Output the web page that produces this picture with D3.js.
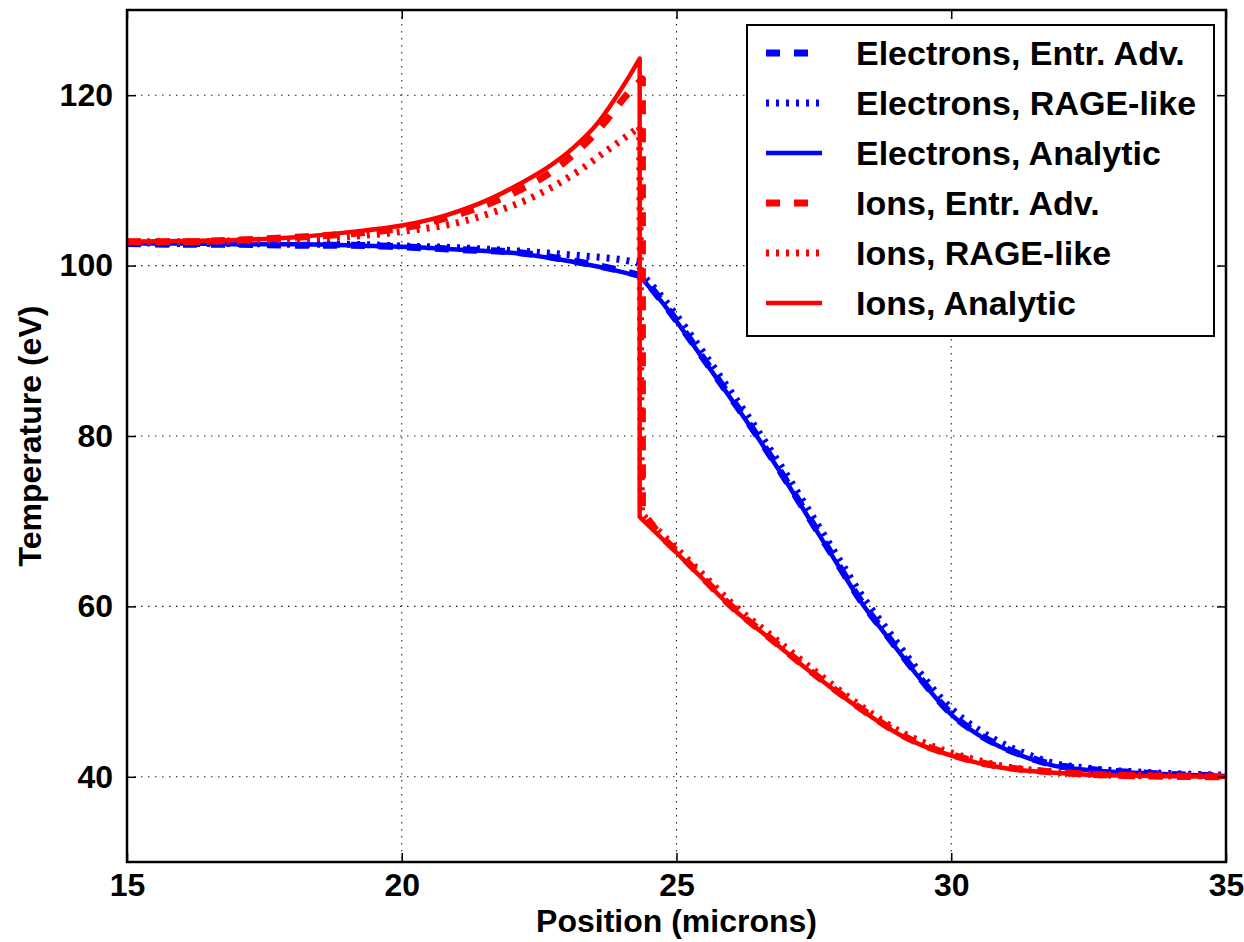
<!DOCTYPE html>
<html><head><meta charset="utf-8">
<script src="https://cdn.jsdelivr.net/npm/d3@7/dist/d3.min.js"></script>
<style>
html,body{margin:0;padding:0;background:#fff;}
text{font-family:"Liberation Sans",Arial,sans-serif;font-weight:bold;fill:#000;}
</style></head>
<body><svg id="chart" width="1244" height="942"></svg>
<script>
// ---------- data ----------
const xTicks = [15, 20, 25, 30, 35];
const yTicks = [40, 60, 80, 100, 120];
const xLabel = "Position (microns)";
const yLabel = "Temperature (eV)";

// Electrons, analytic: before / after shock
const eAnaPre = [[15,102.6],[16,102.6],[17,102.5],[18,102.5],[19,102.4],[20,102.2],[21,101.9],[22.15,101.4],[23.24,100.3],[23.85,99.5],[24.34,98.7]];
const eAnaPost = [[24.34,98.7],[24.7,96.0],[24.96,93.8],[25.5,88.9],[26,84.3],[26.46,80.0],[27,74.6],[27.5,69.4],[28,64.2],[28.34,60.7],[28.89,56.0],[29.37,52.0],[30,47.3],[30.5,44.9],[30.9,43.5],[31.4,42.2],[31.8,41.4],[32.5,40.8],[33.6,40.4],[35,40.1]];
// Electrons, entropy advection
const eEntPre = [[15,102.6],[16,102.5],[17,102.5],[18,102.4],[19,102.4],[20,102.2],[21,101.9],[22.15,101.5],[23.24,100.4],[23.85,99.6],[24.36,98.8]];
const eEntPost = [[24.36,98.8],[24.7,96.1],[24.96,93.9],[25.5,89.0],[26,84.4],[26.46,80.1],[27,74.7],[27.5,69.5],[28,64.3],[28.34,60.8],[28.89,56.1],[29.37,52.1],[30,47.4],[30.5,45.0],[30.9,43.6],[31.4,42.3],[31.8,41.5],[32.5,40.9],[33.6,40.4],[35,40.1]];
// Electrons, RAGE-like
const eRagPre = [[15,102.7],[16,102.6],[17,102.6],[18,102.5],[19,102.5],[20,102.3],[21,102.1],[22.15,101.7],[23.0,101.3],[23.55,101.0],[24.0,100.7],[24.3,100.3]];
const eRagPost = [[24.38,98.9],[24.7,96.6],[24.96,94.5],[25.5,89.7],[26,85.1],[26.46,80.8],[27,75.5],[27.5,70.3],[28,65.1],[28.34,61.6],[28.89,56.8],[29.37,52.7],[30,48.0],[30.5,45.5],[30.9,44.0],[31.4,42.6],[31.8,41.7],[32.5,41.0],[33.6,40.5],[35,40.2]];

// Ions, analytic
const iAnaPre = [[15,102.8],[16,102.9],[17,103.0],[18,103.3],[19,103.9],[20,104.7],[20.8,105.9],[21.6,107.8],[22.15,109.6],[22.65,111.5],[23.1,113.7],[23.55,116.6],[23.85,119.3],[24.1,121.8],[24.33,124.3]];
const iAnaPost = [[24.33,70.5],[24.7,68.2],[25,66.3],[25.5,63.1],[26,59.9],[26.7,56.2],[27.5,52.0],[28.16,48.8],[28.6,46.8],[29.07,44.9],[29.5,43.6],[30,42.5],[30.5,41.6],[30.9,41.1],[31.8,40.5],[32.5,40.25],[33.5,40.1],[35,40.0]];
// Ions, entropy advection
const iEntPre = [[15,102.8],[16,102.8],[17,103.0],[18,103.3],[19,103.7],[20,104.4],[21.12,106.2],[21.64,107.4],[22.09,108.7],[22.58,110.4],[22.97,112.2],[23.37,114.5],[23.73,117.1],[24.09,120.0],[24.38,121.9]];
const iEntPost = [[24.38,71.2],[24.7,68.4],[25,66.5],[25.5,63.2],[26,60.0],[26.7,56.3],[27.5,52.1],[28.16,48.9],[28.6,46.9],[29.07,45.0],[29.5,43.7],[30,42.6],[30.5,41.7],[30.9,41.2],[31.8,40.6],[32.5,40.3],[33.5,40.1],[35,40.0]];
// Ions, RAGE-like
const iRagPre = [[15,102.8],[16,102.8],[17,102.9],[18,103.1],[19,103.4],[20,104.0],[21.12,105.2],[21.73,106.4],[22.27,107.7],[22.76,109.3],[23.24,111.2],[23.73,113.5],[24.12,115.3],[24.33,116.3]];
const iRagPost = [[24.36,70.9],[24.7,68.7],[25,66.8],[25.5,63.6],[26,60.4],[26.7,56.7],[27.5,52.5],[28.16,49.2],[28.6,47.2],[29.07,45.3],[29.5,44.0],[30,42.8],[30.5,41.9],[30.9,41.3],[31.8,40.6],[32.5,40.3],[33.5,40.15],[35,40.1]];

const seriesNames = ["Electrons, Entr. Adv.","Electrons, RAGE-like","Electrons, Analytic","Ions, Entr. Adv.","Ions, RAGE-like","Ions, Analytic"];
const seriesColors = ["#0000ff","#0000ff","#0000ff","#ff0000","#ff0000","#ff0000"];
const seriesStyles = ["dash","dot","solid","dash","dot","solid"];
const seriesPre = [eEntPre, eRagPre, eAnaPre, iEntPre, iRagPre, iAnaPre];
const seriesPost = [eEntPost, eRagPost, eAnaPost, iEntPost, iRagPost, iAnaPost];

// ---------- layout ----------
const L = 127, R = 1226, T = 10, B = 862;
const svg = d3.select("#chart");
const x = d3.scaleLinear().domain([15,35]).range([L,R]);
const y = d3.scaleLinear().domain([30,130]).range([B,T]);

const styleMap = {
  solid: {w:4.5, dash:null},
  dash: {w:7, dash:"14,14"},
  dot: {w:7, dash:"3,7"}
};

// grid
const grid = svg.append("g");
xTicks.filter(t=>t>15 && t<35).forEach(t=>{
  grid.append("line").attr("x1",x(t)).attr("x2",x(t)).attr("y1",T).attr("y2",B)
    .attr("stroke","#222").attr("stroke-width",1.1).attr("stroke-dasharray","1.5,5.5");
});
yTicks.forEach(t=>{
  grid.append("line").attr("x1",L).attr("x2",R).attr("y1",y(t)).attr("y2",y(t))
    .attr("stroke","#222").attr("stroke-width",1.1).attr("stroke-dasharray","1.5,5.5");
});

// clip
svg.append("defs").append("clipPath").attr("id","clip")
  .append("rect").attr("x",L).attr("y",T).attr("width",R-L).attr("height",B-T);

const line = d3.line().x(d=>x(d[0])).y(d=>y(d[1])).curve(d3.curveMonotoneX);
const plot = svg.append("g").attr("clip-path","url(#clip)");
seriesNames.forEach((n,i)=>{
  const a = line(seriesPre[i]);
  const b = line(seriesPost[i]).replace(/^M/,"L");
  const st = styleMap[seriesStyles[i]];
  plot.append("path").attr("d", a + b)
    .attr("fill","none").attr("stroke",seriesColors[i])
    .attr("stroke-width",st.w).attr("stroke-dasharray",st.dash)
    .attr("stroke-linejoin","round");
});

// axes (ticks inward on all sides)
const axB = d3.axisBottom(x).tickValues(xTicks).tickSizeInner(-9).tickSizeOuter(0).tickPadding(11).tickFormat(d3.format("d"));
const axT = d3.axisTop(x).tickValues(xTicks).tickSizeInner(-9).tickSizeOuter(0).tickFormat("");
const axLft = d3.axisLeft(y).tickValues(yTicks).tickSizeInner(-9).tickSizeOuter(0).tickPadding(14).tickFormat(d3.format("d"));
const axRt = d3.axisRight(y).tickValues(yTicks).tickSizeInner(-9).tickSizeOuter(0).tickFormat("");
function styleAxis(g){
  g.select(".domain").remove();
  g.selectAll(".tick line").attr("stroke","#000").attr("stroke-width",1.5);
  g.selectAll(".tick text").attr("font-size",32).attr("font-family",null);
}
svg.append("g").attr("transform",`translate(0,${B})`).call(axB).call(styleAxis);
svg.append("g").attr("transform",`translate(0,${T})`).call(axT).call(styleAxis);
svg.append("g").attr("transform",`translate(${L},0)`).call(axLft).call(styleAxis);
svg.append("g").attr("transform",`translate(${R},0)`).call(axRt).call(styleAxis);

// frame
svg.append("rect").attr("x",L).attr("y",T).attr("width",R-L).attr("height",B-T)
  .attr("fill","none").attr("stroke","#000").attr("stroke-width",2.5);

// axis labels
svg.append("text").attr("x",(L+R)/2).attr("y",932).attr("text-anchor","middle")
  .attr("font-size",32).text(xLabel);
svg.append("text").attr("transform",`translate(41,${(T+B)/2}) rotate(-90)`).attr("text-anchor","middle")
  .attr("font-size",32).text(yLabel);

// legend
const lg = svg.append("g");
lg.append("rect").attr("x",747).attr("y",25).attr("width",467).attr("height",311)
  .attr("fill","#fff").attr("stroke","#000").attr("stroke-width",2);
const rowY = d3.scaleLinear().domain([0,5]).range([53,303]);
seriesNames.forEach((n,i)=>{
  const st = styleMap[seriesStyles[i]];
  lg.append("line").attr("x1",766).attr("x2",822).attr("y1",rowY(i)).attr("y2",rowY(i))
    .attr("stroke",seriesColors[i]).attr("stroke-width",st.w).attr("stroke-dasharray",st.dash);
  lg.append("text").attr("x",856).attr("y",rowY(i)+12).attr("font-size",34).text(n);
});
</script></body></html>
